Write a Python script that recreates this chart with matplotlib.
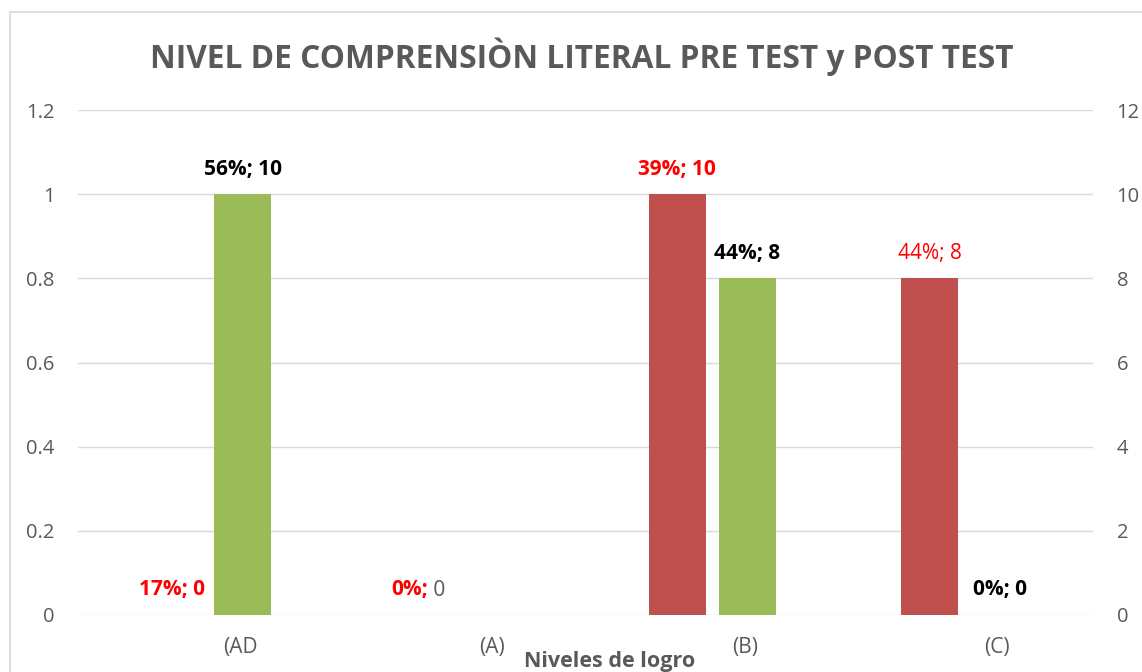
import matplotlib.pyplot as plt
import numpy as np
from matplotlib.patches import Rectangle

plt.rcParams['font.family'] = ['Open Sans', 'DejaVu Sans']

# data
categories = ['(AD', '(A)', '(B)', '(C)']
pre_test = [0, 0, 10, 8]
post_test = [10, 0, 8, 0]
pre_labels = ['17%; 0', '0%; 0', '39%; 10', '44%; 8']
post_labels = ['56%; 10', '', '44%; 8', '0%; 0']
left_ticks = [0, 0.2, 0.4, 0.6, 0.8, 1, 1.2]
right_ticks = [0, 2, 4, 6, 8, 10, 12]

red = '#C0504D'
green = '#9BBB59'
grey = '#595959'

fig = plt.figure(figsize=(11.42, 6.72), dpi=100)
# chart border (cut at right/bottom like the screenshot)
fig.patches.append(Rectangle((10/1142, -0.1), 1.2, 1 - 12/672 + 0.1, transform=fig.transFigure,
                             fill=False, edgecolor='#D9D9D9', linewidth=1.2))

ax = fig.add_axes([78/1142, 1 - 615/672, (1093 - 78)/1142, (615 - 110)/672])
ax2 = ax.twinx()

x = np.arange(len(categories))
w = 0.226
off_pre, off_post = -0.268, 0.01
ax2.bar(x + off_pre, pre_test, w, color=red, zorder=3)
ax2.bar(x + off_post, post_test, w, color=green, zorder=3)

ax.set_xlim(-0.642, 3.38)
ax.set_ylim(0, 1.2)
ax2.set_ylim(0, 12)
ax.set_yticks(left_ticks)
ax.set_yticklabels(['0', '0.2', '0.4', '0.6', '0.8', '1', '1.2'])
ax2.set_yticks(right_ticks)
ax.set_xticks(x)
ax.set_xticklabels(categories, fontsize=15)
ax.grid(axis='y', color='#D9D9D9', linewidth=1)
ax.set_axisbelow(True)
for a in (ax, ax2):
    for s in a.spines.values():
        s.set_visible(False)
    a.tick_params(axis='y', length=0, labelsize=14.5, labelcolor=grey)
ax.tick_params(axis='x', length=0, labelcolor=grey, pad=16)
ax.tick_params(axis='y', pad=17)
ax2.tick_params(axis='y', pad=17)

# data labels
fs = 15
for i in range(len(categories)):
    xp = x[i] + off_pre
    if i == 1:
        ax2.annotate('0%;', (xp, pre_test[i]), xytext=(3, 25), textcoords='offset pixels',
                     ha='right', va='center', color='#FF0000', fontsize=fs, fontweight='bold')
        ax2.annotate(' 0', (xp, pre_test[i]), xytext=(3, 25), textcoords='offset pixels',
                     ha='left', va='center', color=grey, fontsize=fs)
    else:
        ax2.annotate(pre_labels[i], (xp, pre_test[i]), xytext=(0, 25), textcoords='offset pixels',
                     ha='center', va='center', color='#FF0000', fontsize=fs,
                     fontweight='normal' if i == 3 else 'bold')
    if post_labels[i]:
        ax2.annotate(post_labels[i], (x[i] + off_post, post_test[i]), xytext=(0, 25),
                     textcoords='offset pixels', ha='center', va='center',
                     color='black', fontsize=fs, fontweight='bold')

fig.text(582/1142, 1 - 57/672, 'NIVEL DE COMPRENSIÒN LITERAL PRE TEST y POST TEST',
         ha='center', va='center', fontsize=22.8, fontweight='bold', color=grey)
fig.text(610/1142, 1 - 667/672, 'Niveles de logro', ha='center', va='baseline',
         fontsize=15.5, fontweight='bold', color=grey)

fig.savefig('out.png', dpi=100)
